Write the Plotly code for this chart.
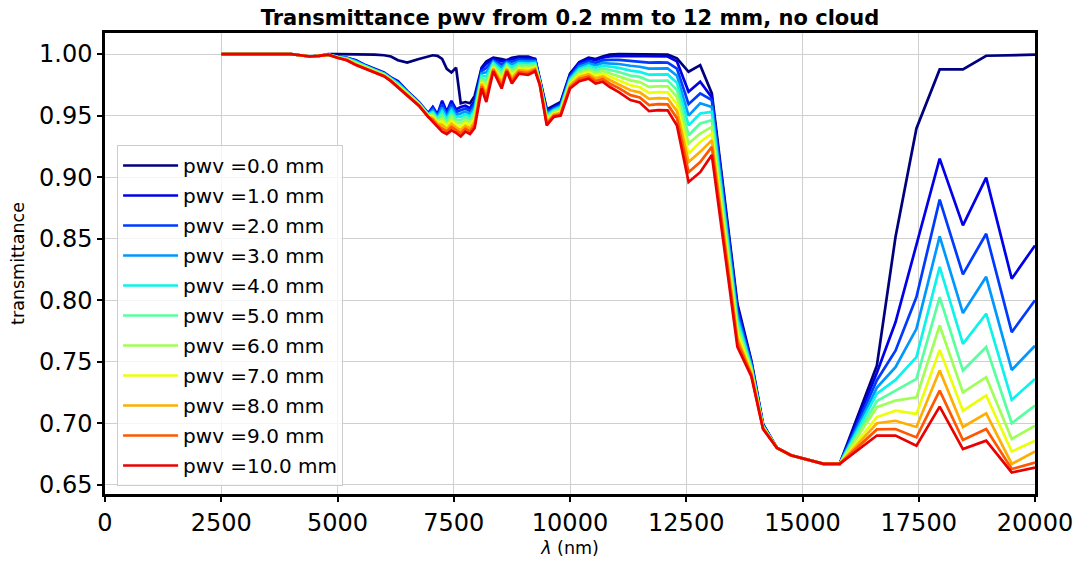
import plotly.graph_objects as go

wavelength_nm = [2500, 2800, 3100, 3400, 3700, 4000, 4200, 4400, 4600, 4800,
                 5000, 5200, 5400, 5600, 5800, 6000, 6150, 6300, 6500, 6750,
                 6950, 7050, 7150, 7250, 7350, 7450, 7550, 7650, 7750, 7850,
                 7950, 8100, 8200, 8350, 8530, 8640, 8750, 8900, 9100, 9250,
                 9350, 9500, 9650, 9800, 10000, 10200, 10400, 10550, 10700, 10850,
                 11050, 11300, 11500, 11700, 11900, 12100, 12300, 12550, 12800, 13050,
                 13600, 13900, 14150, 14450, 14750, 15050, 15450, 15800, 16600, 17000,
                 17450, 17950, 18450, 18950, 19500, 20000]

pwv_values = [0.0, 1.0, 2.0, 3.0, 4.0, 5.0, 6.0, 7.0, 8.0, 9.0, 10.0]

trans_pwv0 = [1.0,1.0,1.0,1.0,1.0,1.0,0.999,0.998,0.9985,1.0,
              1.0,1.0,1.0,1.0,0.9995,0.999,0.998,0.995,0.993,0.996,
              0.998,0.999,0.9985,0.996,0.988,0.985,0.989,0.960,0.961,0.960,
              0.966,0.989,0.994,0.997,0.996,0.995,0.997,0.998,0.998,0.996,
              0.980,0.955,0.958,0.961,0.984,0.9935,0.997,0.996,0.998,0.9995,
              1.0,1.0,1.0,1.0,1.0,0.9995,0.9965,0.9856,0.991,0.968,
              0.797,0.751,0.6994,0.680,0.674,0.671,0.667,0.667,0.747,0.8513,
              0.9395,0.9875,0.9875,0.9986,0.999,0.9995]

trans_pwv1 = [1.0,1.0,1.0,1.0,1.0,1.0,0.999,0.998,0.9985,0.9995,
              0.998,0.997,0.995,0.991,0.988,0.985,0.981,0.978,0.970,0.961,
              0.952,0.957,0.951,0.962,0.953,0.962,0.955,0.957,0.958,0.956,
              0.962,0.988,0.992,0.996,0.994,0.995,0.996,0.997,0.997,0.996,
              0.979,0.954,0.957,0.960,0.983,0.993,0.996,0.995,0.997,0.998,
              0.9985,0.9985,0.998,0.998,0.998,0.998,0.994,0.9694,0.9775,0.9647,
              0.794,0.7497,0.699,0.680,0.674,0.671,0.667,0.667,0.741,0.782,
              0.8445,0.915,0.8608,0.8996,0.8174,0.8445]

trans_pwv2 = [1.0,1.0,1.0,1.0,1.0,1.0,0.999,0.998,0.9985,0.9995,
              0.998,0.997,0.9945,0.9905,0.9875,0.9845,0.9805,0.977,0.9695,0.9605,
              0.9515,0.9557,0.9499,0.9592,0.951,0.9593,0.9529,0.9543,0.9557,0.9537,
              0.9596,0.9862,0.9886,0.9949,0.9916,0.994,0.9938,0.9956,0.9954,0.9949,
              0.9786,0.9527,0.9561,0.9589,0.9818,0.9913,0.9942,0.9929,0.9948,0.9953,
              0.9952,0.9945,0.9938,0.9931,0.9932,0.9931,0.9882,0.9593,0.968,0.9626,
              0.791,0.7484,0.6986,0.680,0.674,0.671,0.667,0.667,0.735,0.759,
              0.8025,0.8817,0.821,0.854,0.774,0.800]

trans_pwv3 = [1.0,1.0,1.0,1.0,1.0,1.0,0.999,0.998,0.9985,0.9995,
              0.998,0.9965,0.994,0.990,0.987,0.984,0.980,0.9765,0.969,0.960,
              0.951,0.9543,0.9488,0.9564,0.949,0.9567,0.9508,0.9517,0.9533,0.9513,
              0.9571,0.9844,0.9851,0.9938,0.9891,0.993,0.9916,0.9941,0.9939,0.9938,
              0.9781,0.9513,0.9552,0.9578,0.9806,0.9897,0.9924,0.9908,0.9927,0.9925,
              0.9919,0.9905,0.9897,0.9881,0.9883,0.9883,0.9824,0.950,0.960,0.957,
              0.787,0.747,0.6982,0.680,0.674,0.671,0.667,0.667,0.729,0.7455,
              0.7767,0.8519,0.7895,0.819,0.7433,0.763]

trans_pwv4 = [1.0,1.0,1.0,1.0,1.0,1.0,0.999,0.998,0.9985,0.9995,
              0.9975,0.9965,0.9935,0.990,0.987,0.984,0.980,0.976,0.969,0.960,
              0.951,0.953,0.9477,0.9537,0.947,0.954,0.9487,0.949,0.951,0.949,
              0.9547,0.9827,0.9817,0.9927,0.9867,0.992,0.9893,0.9927,0.9923,0.9927,
              0.9777,0.950,0.9543,0.9567,0.9793,0.988,0.9907,0.9887,0.9905,0.9898,
              0.9887,0.9865,0.9855,0.9832,0.9835,0.9834,0.9767,0.942,0.9517,0.953,
              0.784,0.7457,0.6978,0.680,0.674,0.671,0.667,0.667,0.724,0.7352,
              0.7537,0.827,0.7645,0.789,0.719,0.736]

trans_pwv5 = [1.0,1.0,1.0,1.0,1.0,1.0,0.999,0.998,0.9985,0.9995,
              0.9975,0.996,0.993,0.9895,0.9865,0.9835,0.9795,0.975,0.9685,0.9595,
              0.9505,0.9517,0.9466,0.9509,0.945,0.9513,0.9466,0.9463,0.9487,0.9467,
              0.9522,0.9809,0.9782,0.9916,0.9842,0.991,0.9871,0.9912,0.9908,0.9916,
              0.9772,0.9487,0.9534,0.9556,0.9781,0.9863,0.9889,0.9866,0.9883,0.9871,
              0.9854,0.9825,0.9814,0.9783,0.9786,0.9785,0.9709,0.934,0.9436,0.9463,
              0.780,0.7444,0.6974,0.680,0.674,0.671,0.667,0.667,0.718,0.7265,
              0.736,0.8025,0.7428,0.762,0.700,0.7144]

trans_pwv6 = [1.0,1.0,1.0,1.0,1.0,1.0,0.999,0.998,0.9985,0.9995,
              0.9975,0.996,0.9925,0.989,0.986,0.983,0.979,0.9745,0.968,0.959,
              0.950,0.9503,0.9454,0.9481,0.943,0.9487,0.9444,0.9437,0.9463,0.9443,
              0.9498,0.9791,0.9748,0.9904,0.9818,0.990,0.9849,0.9898,0.9892,0.9904,
              0.9768,0.9473,0.9526,0.9544,0.9769,0.9847,0.9871,0.9844,0.9862,0.9843,
              0.9821,0.9786,0.9772,0.9733,0.9738,0.9737,0.9651,0.9273,0.9354,0.9408,
              0.777,0.7431,0.697,0.680,0.674,0.671,0.667,0.667,0.713,0.7184,
              0.721,0.7794,0.725,0.7374,0.6872,0.698]

trans_pwv7 = [1.0,1.0,1.0,1.0,1.0,1.0,0.999,0.998,0.9985,0.9995,
              0.997,0.9955,0.992,0.989,0.986,0.983,0.979,0.974,0.968,0.959,
              0.950,0.949,0.9443,0.9453,0.941,0.946,0.9423,0.941,0.944,0.942,
              0.9473,0.9773,0.9713,0.9893,0.9793,0.989,0.9827,0.9883,0.9877,0.9893,
              0.9763,0.946,0.9517,0.9533,0.9757,0.983,0.9853,0.9823,0.984,0.9816,
              0.9788,0.9746,0.973,0.9684,0.969,0.9688,0.9593,0.919,0.9286,0.9354,
              0.773,0.7418,0.6966,0.680,0.674,0.671,0.667,0.667,0.705,0.7102,
              0.7076,0.7596,0.7102,0.7225,0.677,0.6858]

trans_pwv8 = [1.0,1.0,1.0,1.0,1.0,1.0,0.999,0.998,0.9985,0.9995,
              0.997,0.9955,0.9915,0.9885,0.9855,0.9825,0.9785,0.9735,0.9675,0.9585,
              0.9495,0.9477,0.9432,0.9426,0.939,0.9433,0.9402,0.9383,0.9417,0.9397,
              0.9449,0.9756,0.9679,0.9882,0.9769,0.988,0.9804,0.9869,0.9861,0.9882,
              0.9759,0.9447,0.9508,0.9522,0.9744,0.9813,0.9836,0.9802,0.9818,0.9789,
              0.9755,0.9706,0.9689,0.9635,0.9641,0.9639,0.9536,0.9123,0.9205,0.930,
              0.769,0.7405,0.6962,0.680,0.674,0.671,0.667,0.667,0.700,0.702,
              0.697,0.7428,0.697,0.708,0.6669,0.677]

trans_pwv9 = [1.0,1.0,1.0,1.0,1.0,1.0,0.999,0.998,0.9985,0.9995,
              0.997,0.995,0.991,0.988,0.985,0.982,0.978,0.973,0.967,0.958,
              0.949,0.9463,0.9421,0.9398,0.937,0.9407,0.9381,0.9357,0.9393,0.9373,
              0.9424,0.9738,0.9644,0.9871,0.9744,0.987,0.9782,0.9854,0.9846,0.9871,
              0.9754,0.9433,0.9499,0.9511,0.9732,0.9797,0.9818,0.9781,0.9797,0.9761,
              0.9723,0.9666,0.9647,0.9585,0.9593,0.9591,0.9478,0.904,0.9123,0.9246,
              0.766,0.7392,0.6958,0.680,0.674,0.671,0.667,0.667,0.695,0.6953,
              0.6885,0.7265,0.6864,0.6953,0.6628,0.668]

trans_pwv10 = [1.0,1.0,1.0,1.0,1.0,1.0,0.999,0.998,0.9985,0.9995,
               0.997,0.995,0.991,0.988,0.985,0.982,0.978,0.973,0.967,0.958,
               0.949,0.945,0.941,0.937,0.935,0.938,0.936,0.933,0.937,0.935,
               0.940,0.972,0.961,0.986,0.972,0.986,0.976,0.984,0.983,0.986,
               0.975,0.942,0.949,0.950,0.972,0.978,0.980,0.976,0.9775,0.9734,
               0.969,0.9626,0.9606,0.9536,0.9544,0.9542,0.942,0.896,0.904,0.918,
               0.762,0.738,0.6953,0.680,0.674,0.671,0.667,0.667,0.690,0.690,
               0.6818,0.7135,0.679,0.6858,0.660,0.664]

series = [trans_pwv0, trans_pwv1, trans_pwv2, trans_pwv3, trans_pwv4, trans_pwv5,
          trans_pwv6, trans_pwv7, trans_pwv8, trans_pwv9, trans_pwv10]

# jet colormap samples
line_colors = ["#00007f", "#0000e9", "#003aff", "#0097ff", "#0bf3eb", "#56ffa0",
               "#a0ff56", "#ebff0b", "#ffad00", "#ff5700", "#e90000"]

x_ticks = [0, 2500, 5000, 7500, 10000, 12500, 15000, 17500, 20000]
y_ticks = [0.65, 0.70, 0.75, 0.80, 0.85, 0.90, 0.95, 1.00]

FONT = "DejaVu Sans"

fig = go.Figure()
for i, (pwv, ys) in enumerate(zip(pwv_values, series)):
    fig.add_trace(go.Scatter(
        x=wavelength_nm, y=ys, mode="lines",
        name=f"pwv ={pwv:.1f} mm", legendgroup=f"g{i}",
        line=dict(color=line_colors[i], width=2.7),
    ))

fig.update_layout(
    width=1084, height=571,
    margin=dict(l=105, r=49, t=33, b=77, autoexpand=False),
    paper_bgcolor="white", plot_bgcolor="white",
    font=dict(family=FONT, color="black"),
    title=dict(text="<b>Transmittance pwv from 0.2 mm to 12 mm, no cloud</b>",
               x=0.5, xref="paper", xanchor="center",
               y=1 - 18 / 571, yref="container", yanchor="middle",
               font=dict(size=21, family=FONT, color="black")),
    showlegend=True,
    legend=dict(x=0.013, y=0.757, xanchor="left", yanchor="top",
                bgcolor="rgba(255,255,255,0.8)", bordercolor="#cccccc", borderwidth=1,
                font=dict(size=20, family=FONT, color="black"),
                tracegroupgap=1, traceorder="grouped", itemwidth=55),
)

fig.update_xaxes(
    range=[0, 20000], tickvals=x_ticks, ticktext=[str(v) for v in x_ticks],
    showgrid=True, gridcolor="#cfcfcf", gridwidth=1, zeroline=False,
    showline=True, linecolor="black", linewidth=2.5, mirror=True,
    ticks="outside", ticklen=5, tickwidth=1.5, tickcolor="black",
    tickfont=dict(size=24, family=FONT, color="black"),
    title=dict(text="<i>λ</i> (nm)", font=dict(size=17.5, family=FONT, color="black"), standoff=7),
)
fig.update_yaxes(
    range=[0.6425, 1.0171], tickvals=y_ticks, ticktext=[f"{v:.2f}" for v in y_ticks],
    showgrid=True, gridcolor="#cfcfcf", gridwidth=1, zeroline=False,
    showline=True, linecolor="black", linewidth=2.5, mirror=True,
    ticks="outside", ticklen=5, tickwidth=1.5, tickcolor="black",
    tickfont=dict(size=24, family=FONT, color="black"),
    title=dict(text="transmittance", font=dict(size=17.5, family=FONT, color="black"), standoff=10),
)

fig.write_html("out.html")
